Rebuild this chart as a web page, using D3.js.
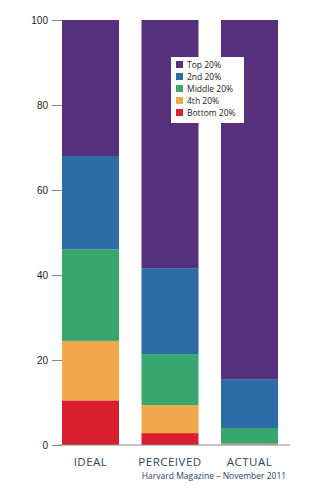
<!DOCTYPE html>
<html>
<head>
  <meta charset="utf-8">
  <style>
    body { margin: 0; background: #fff; }
  </style>
</head>
<body>
  <script src="https://d3js.org/d3.v7.min.js"></script>
  <script>
    var categories = ['IDEAL', 'PERCEIVED', 'ACTUAL'];
    var groups = ['Bottom 20%', '4th 20%', 'Middle 20%', '2nd 20%', 'Top 20%'];
    var bottom = [10.5, 2.8, 0.1];
    var fourth = [14, 6.6, 0.2];
    var middle = [21.5, 12, 3.7];
    var second = [22, 20.2, 11.5];
    var top20 = [32, 58.4, 84.5];
    var yTicks = [0, 20, 40, 60, 80, 100];
    var colors = ['#d91f2f', '#efa84c', '#39a66d', '#2e6ca8', '#56307b'];

    var svgW = 327, svgH = 490;
    var svg = d3.select('body').append('svg').attr('width', svgW).attr('height', svgH);

    var x = d3.scaleBand().domain(categories).range([62, 278]).paddingInner(0.283).paddingOuter(0);
    var y = d3.scaleLinear().domain([0, 100]).range([445, 20]);

    var rows = categories.map(function(c, i) {
      return { cat: c, 'Bottom 20%': bottom[i], '4th 20%': fourth[i], 'Middle 20%': middle[i], '2nd 20%': second[i], 'Top 20%': top20[i] };
    });
    var stacked = d3.stack().keys(groups)(rows);

    // bars
    svg.selectAll('g.layer').data(stacked).enter().append('g')
      .attr('fill', function(d, i) { return colors[i]; })
      .selectAll('rect').data(function(d) { return d; }).enter().append('rect')
      .attr('x', function(d) { return x(d.data.cat); })
      .attr('width', x.bandwidth())
      .attr('y', function(d) { return y(d[1]); })
      .attr('height', function(d) { return y(d[0]) - y(d[1]); });

    // y axis ticks
    var yAxis = d3.axisLeft(y).tickValues(yTicks).tickSize(10).tickPadding(4);
    var ga = svg.append('g').attr('transform', 'translate(62,0)').call(yAxis);
    ga.select('.domain').remove();
    ga.selectAll('line').attr('stroke', '#888');
    ga.selectAll('text').attr('font-family', 'Arial, Liberation Sans, sans-serif').attr('font-size', 10).attr('fill', '#222');

    // baseline
    svg.append('line').attr('x1', 58).attr('x2', 290).attr('y1', y(0)).attr('y2', y(0))
      .attr('stroke', '#888').attr('stroke-width', 1);

    // category labels
    svg.selectAll('text.cat').data(categories).enter().append('text')
      .attr('class', 'cat')
      .attr('x', function(d) { return x(d) + x.bandwidth() / 2; })
      .attr('y', 466)
      .attr('text-anchor', 'middle')
      .attr('font-family', 'Open Sans, sans-serif')
      .attr('font-size', 11.5)
      .attr('letter-spacing', 0.5)
      .attr('fill', '#2c4463')
      .text(function(d) { return d; });

    svg.append('text').attr('x', 214).attr('y', 479).attr('text-anchor', 'middle')
      .attr('font-family', 'Open Sans, sans-serif').attr('font-size', 8.5).attr('fill', '#2c4463')
      .text('Harvard Magazine \u2013 November 2011');

    // legend
    var lg = svg.append('g').attr('transform', 'translate(171,57)');
    lg.append('rect').attr('width', 73).attr('height', 66).attr('fill', '#fff');
    var items = groups.slice().reverse();
    var lcol = colors.slice().reverse();
    var li = lg.selectAll('g.item').data(items).enter().append('g')
      .attr('transform', function(d, i) { return 'translate(5,' + (4 + i * 12) + ')'; });
    li.append('rect').attr('width', 7).attr('height', 7).attr('fill', function(d, i) { return lcol[i]; });
    li.append('text').attr('x', 11).attr('y', 7)
      .attr('font-family', 'Open Sans, sans-serif').attr('font-size', 8.5).attr('fill', '#222')
      .text(function(d) { return d; });
  </script>
</body>
</html>
